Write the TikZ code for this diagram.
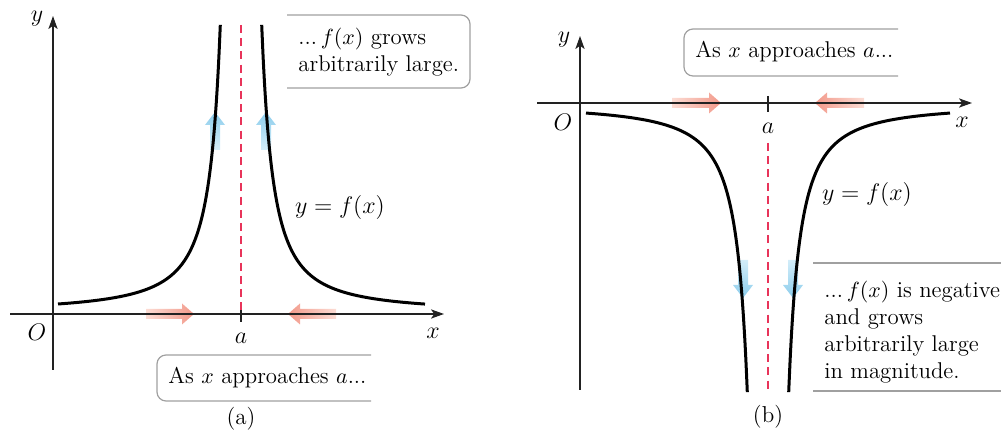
\documentclass[tikz,border=0pt]{standalone}
\usepackage{tikz}
\usetikzlibrary{arrows.meta,positioning}
\definecolor{asymred}{HTML}{E8345A}
\definecolor{apphead}{HTML}{F2998A}
\definecolor{apptail}{HTML}{FCDCD4}
\definecolor{growhead}{HTML}{8CCDEC}
\definecolor{growtail}{HTML}{D3EDF9}
\definecolor{framegray}{HTML}{A0A0A0}
\definecolor{inkgray}{HTML}{222222}

\begin{document}
\begin{tikzpicture}[
  x=0.5pt, y=-0.5pt,
  >={Stealth[length=6.5pt, width=4.6pt, inset=1.6pt]},
  axis/.style={->, line width=0.65pt, draw=inkgray},
  curve/.style={line width=1.5pt, draw=black, smooth, samples=120},
  asym/.style={line width=0.75pt, draw=asymred, dash pattern=on 4pt off 2.6pt},
  apR/.style={left color=apptail, right color=apphead, draw=none},
  apL/.style={left color=apphead, right color=apptail, draw=none},
  grUp/.style={top color=growhead, bottom color=growtail, draw=none},
  grDn/.style={top color=growtail, bottom color=growhead, draw=none},
  callout/.style={line width=0.6pt, draw=framegray, rounded corners=4.5pt},
  lbl/.style={font=\fontsize{11.5}{13}\selectfont, inner sep=0pt},
  txt/.style={font=\fontsize{11.4}{13.4}\selectfont, align=left, inner sep=0pt, anchor=west}
]
  \useasboundingbox (0,0) rectangle (1001,431);

  % (a) pfeile unter den achsen
  \shade[apR] (146,309) -- ++(36,0) -- ++(0,-5.5) -- ++(12,10.5) -- ++(-12,10.5) -- ++(0,-5.5) -- ++(-36,0) -- cycle;
  \shade[apL] (336,309) -- ++(-36,0) -- ++(0,-5.5) -- ++(-12,10.5) -- ++(12,10.5) -- ++(0,-5.5) -- ++(36,0) -- cycle;
  \shade[grUp] (210,150) -- ++(0,-25) -- ++(-5,0) -- ++(10,-13) -- ++(10,13) -- ++(-5,0) -- ++(0,25) -- cycle;
  \shade[grUp] (261,150) -- ++(0,-25) -- ++(-5,0) -- ++(10,-13) -- ++(10,13) -- ++(-5,0) -- ++(0,25) -- cycle;

  % (a) achsen
  \draw[axis] (10,314) -- (444,314);
  \draw[axis] (53,370) -- (53,16);
  \draw[line width=0.65pt, draw=inkgray] (241,306) -- (241,322);
  \draw[asym] (241,25) -- (241,314);
  \draw[curve] plot[domain=2.07:18.3] ({241-10*\x},{314-(970/(\x*\x)+130/\x)});
  \draw[curve] plot[domain=2.07:18.4] ({241+10*\x},{314-(970/(\x*\x)+130/\x)});

  \node[lbl] (ya) at (37,19)  {$y$};
  \node[lbl] (oa) at (37,332) {$O$};
  \node[lbl] (aa) at (241,338){$a$};
  \node[lbl] (xa) at (433,333){$x$};
  \node[lbl] (fa) at (340,208){$y=f(x)$};
  \node[lbl] (capa) at (241,419){(a)};

  % (a) kaesten
  \draw[callout] (287,15) -| (470,88) -- (287,88);
  \node[txt] (growa) at (298,52) {...\,$f(x)$ grows\\arbitrarily large.};
  \draw[callout] (371,355) -| (157,401) -- (371,401);
  \node[txt] (appa) at (168,378) {As $x$ approaches $a$...};

  % (b) pfeile unter den achsen
  \shade[apR] (672,98) -- ++(37,0) -- ++(0,-5.5) -- ++(12,10.5) -- ++(-12,10.5) -- ++(0,-5.5) -- ++(-37,0) -- cycle;
  \shade[apL] (864,98) -- ++(-37,0) -- ++(0,-5.5) -- ++(-12,10.5) -- ++(12,10.5) -- ++(0,-5.5) -- ++(37,0) -- cycle;
  \shade[grDn] (738,260) -- ++(0,25) -- ++(-5,0) -- ++(10,13) -- ++(10,-13) -- ++(-5,0) -- ++(0,-25) -- cycle;
  \shade[grDn] (788,260) -- ++(0,25) -- ++(-5,0) -- ++(10,13) -- ++(10,-13) -- ++(-5,0) -- ++(0,-25) -- cycle;

  % (b) achsen
  \draw[axis] (537,103) -- (972,103);
  \draw[axis] (580,390) -- (580,36);
  \draw[line width=0.65pt, draw=inkgray] (768,96) -- (768,112);
  \draw[asym] (768,143) -- (768,390);
  \draw[curve] plot[domain=2.07:18.2] ({768-10*\x},{103+(970/(\x*\x)+130/\x)});
  \draw[curve] plot[domain=2.07:18.2] ({768+10*\x},{103+(970/(\x*\x)+130/\x)});

  \node[lbl] (yb) at (564,40)  {$y$};
  \node[lbl] (ob) at (563,122) {$O$};
  \node[lbl] (ab) at (768,128) {$a$};
  \node[lbl] (xb) at (962,122) {$x$};
  \node[lbl] (fb) at (867,195) {$y=f(x)$};
  \node[lbl] (capb) at (768,417){(b)};

  % (b) kaesten
  \draw[callout] (898,29) -| (684,76) -- (898,76);
  \node[txt] (appb) at (695,52) {As $x$ approaches $a$...};
  \draw[line width=0.6pt, draw=framegray] (813,263) -- (1001,263);
  \draw[line width=0.6pt, draw=framegray] (813,391) -- (1001,391);
  \node[txt] (growb) at (824,332) {...\,$f(x)$ is negative\\and grows\\arbitrarily large\\in magnitude.};
\end{tikzpicture}
\end{document}
